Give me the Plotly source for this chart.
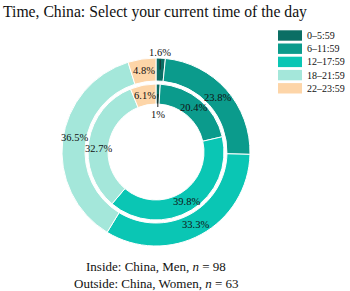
import math
import plotly.graph_objects as go

categories = ["0–5:59", "6–11:59", "12–17:59", "18–21:59", "22–23:59"]
inner_men = [1.0, 20.4, 39.8, 32.7, 6.1]      # Inside: China, Men, n = 98
outer_women = [1.6, 23.8, 33.3, 36.5, 4.8]    # Outside: China, Women, n = 63
colors = ["#0b6e64", "#0b9b8c", "#0ac6b4", "#a4e7da", "#fdd5a8"]

FONT = "Liberation Serif"
TXT = "#111"

def fmt(v):
    return f"{v:g}%"

W, H = 350, 291
ml, mt = 62, 58
pw = ph = 188
mr, mb = W - ml - pw, H - mt - ph

# ring radii in pixels
R_OUT, R_OUT_IN = 94.0, 71.0
R_IN, R_IN_IN = 68.0, 48.0
frac = R_IN / R_OUT

# small vertical nudges (px) to keep neighbouring labels apart, as in the reference
NUDGE = {("out", 3): -4, ("in", 3): 6}

def px_to_paper(px, py):
    return (px - ml) / pw, (mt + ph - py) / ph

def polar_paper(angle_deg, r, dy_px=0.0):
    a = math.radians(angle_deg)
    return 0.5 + r * math.sin(a) / pw, 0.5 + (r * math.cos(a) - dy_px) / ph

def mid_angles(vals):
    tot = sum(vals)
    out, cum = [], 0.0
    for v in vals:
        out.append(360 * (cum + v / 2) / tot)
        cum += v
    return out

fig = go.Figure()
fig.add_trace(go.Pie(
    labels=categories, values=outer_women, textinfo="none",
    sort=False, direction="clockwise", rotation=0,
    hole=R_OUT_IN / R_OUT, domain=dict(x=[0, 1], y=[0, 1]),
    marker=dict(colors=colors, line=dict(color="white", width=1)),
    hoverinfo="label+percent", name="Women",
))
fig.add_trace(go.Pie(
    labels=categories, values=inner_men, textinfo="none",
    sort=False, direction="clockwise", rotation=0,
    hole=R_IN_IN / R_IN,
    domain=dict(x=[0.5 - frac / 2, 0.5 + frac / 2], y=[0.5 - frac / 2, 0.5 + frac / 2]),
    marker=dict(colors=colors, line=dict(color="white", width=1)),
    hoverinfo="label+percent", name="Men",
))

lab_font = dict(family=FONT, size=10.5, color=TXT)

# slice labels at mid-angle / mid-ring
for vals, r_mid, ring in ((outer_women, (R_OUT + R_OUT_IN) / 2, "out"),
                          (inner_men, (R_IN + R_IN_IN) / 2, "in")):
    for i, (v, a) in enumerate(zip(vals, mid_angles(vals))):
        if v < 3:
            x, y = polar_paper(a, r_mid)
            fig.add_annotation(x=x, y=y, xref="paper", yref="paper", text=fmt(v),
                               showarrow=True, arrowhead=0, arrowwidth=1, arrowcolor="#222",
                               ax=0, ay=(-17 if ring == "out" else 20), font=lab_font)
        else:
            x, y = polar_paper(a, r_mid, NUDGE.get((ring, i), 0))
            fig.add_annotation(x=x, y=y, xref="paper", yref="paper", text=fmt(v),
                               xanchor="center", yanchor="middle",
                               showarrow=False, font=lab_font)

# custom legend (wide swatches like the reference)
for i, (cat, col) in enumerate(zip(categories, colors)):
    cy = 35.5 + 13.2 * i
    x0, y0 = px_to_paper(278, cy - 5.2)
    x1, y1 = px_to_paper(302, cy + 5.2)
    fig.add_shape(type="rect", xref="paper", yref="paper", x0=x0, x1=x1, y0=y0, y1=y1,
                  fillcolor=col, line=dict(width=0))
    tx, ty = px_to_paper(305, cy)
    fig.add_annotation(x=tx, y=ty, xref="paper", yref="paper", text=cat, showarrow=False,
                       xanchor="left", yanchor="middle", font=dict(family=FONT, size=10, color=TXT))

x1, y1 = px_to_paper(156, 266)
fig.add_annotation(x=x1, y=y1, xref="paper", yref="paper", xanchor="center", yanchor="middle",
                   text="Inside: China, Men, <i>n</i> = 98", showarrow=False,
                   font=dict(family=FONT, size=13, color=TXT))
x2, y2 = px_to_paper(156, 283)
fig.add_annotation(x=x2, y=y2, xref="paper", yref="paper", xanchor="center", yanchor="middle",
                   text="Outside: China, Women, <i>n</i> = 63", showarrow=False,
                   font=dict(family=FONT, size=13, color=TXT))

fig.update_layout(
    width=W, height=H,
    margin=dict(l=ml, r=mr, t=mt, b=mb, autoexpand=False),
    paper_bgcolor="white", plot_bgcolor="white",
    title=dict(text="Time, China: Select your current time of the day",
               x=3 / W, xanchor="left", xref="container",
               y=1 - 12 / H, yanchor="middle", yref="container",
               font=dict(family=FONT, size=15.7, color=TXT)),
    showlegend=False,
)

fig.write_html("out.html", config={"displayModeBar": False},
               post_script="document.body.style.margin='0';document.body.style.padding='0';")
